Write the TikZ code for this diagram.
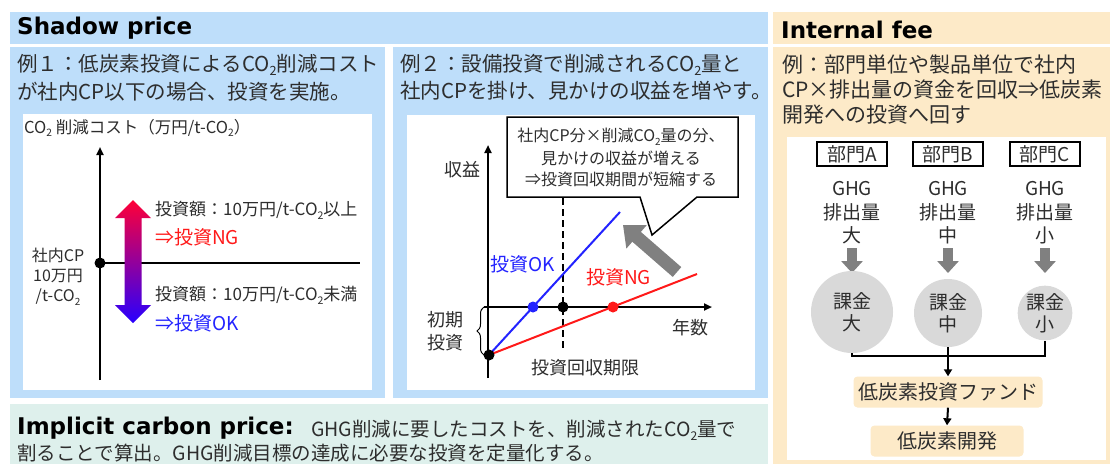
\documentclass[tikz,border=0pt]{standalone}
\usepackage{fontspec}
\setmainfont{Noto Sans CJK JP}
\newfontfamily\hdfont{DejaVu Sans}
\usetikzlibrary{arrows.meta,decorations.pathreplacing,calc}
\definecolor{sbblue}{RGB}{190,222,250}
\definecolor{ifbeige}{RGB}{253,234,200}
\definecolor{icgreen}{RGB}{222,240,236}
\definecolor{tcol}{RGB}{45,45,45}
\definecolor{ngred}{RGB}{255,25,25}
\definecolor{okblue}{RGB}{35,35,255}
\definecolor{circgray}{RGB}{217,217,217}
\definecolor{arrgray}{RGB}{128,128,128}
\definecolor{gradtop}{RGB}{255,0,55}
\definecolor{gradbot}{RGB}{40,0,255}
\newcommand\fz[1]{\fontsize{#1}{#1}\selectfont}
\newcommand\subtwo{\raisebox{-0.22em}{\scalebox{0.62}{2}}}
\tikzset{
  tx/.style={inner sep=0pt, text=tcol},
  hd/.style={inner sep=0pt, anchor=west, text=black, font=\hdfont\bfseries\fz{23}},
  ptxt/.style={tx, anchor=west, font=\fz{20.5}},
  ctxt/.style={tx, font=\fz{17}},
  axis/.style={line width=2pt, -{Triangle[length=8pt,width=7pt]}},
  dot/.style={circle, inner sep=0pt, minimum size=11pt},
  deptbox/.style={draw=black, line width=2pt, inner sep=0pt, minimum width=70pt, minimum height=24pt, text=tcol, font=\fz{19}},
  fee/.style={circle, fill=circgray, inner sep=0pt, text=tcol, font=\fz{19}, align=center},
  grayarr/.style={arrgray, line width=10pt, -{Triangle[length=12pt,width=21pt]}},
  fund/.style={fill=ifbeige, rounded corners=4pt, inner sep=0pt, text=tcol, font=\fz{20}},
  flow/.style={line width=2pt, -{Triangle[length=7pt,width=8pt]}},
}
\begin{document}
\begin{tikzpicture}[x=1pt,y=-1pt]
\useasboundingbox (0,0) rectangle (1110,464);
\fill[white] (0,0) rectangle (1110,464);
% ---------- backgrounds
\fill[sbblue] (10,12) rectangle (768,44);
\fill[sbblue] (10,47) rectangle (385,398);
\fill[sbblue] (393,47) rectangle (768,398);
\fill[white] (23,114) rectangle (372,390);
\fill[white] (407,115) rectangle (755,390);
\fill[icgreen] (10,404) rectangle (768,464);
\fill[ifbeige] (773,12) rectangle (1110,44);
\fill[ifbeige] (773,47) rectangle (1110,464);
\fill[white] (787,137) rectangle (1106,460);
% ---------- headings
\node[hd] (hsp) at (17,28) {Shadow price};
\node[hd] (hif) at (781,30) {Internal fee};
\node[ptxt] (p1a) at (17,65) {例１：低炭素投資によるCO\subtwo 削減コスト};
\node[ptxt] (p1b) at (17,92) {が社内CP以下の場合、投資を実施。};
\node[ptxt] (p2a) at (400,65) {例２：設備投資で削減されるCO\subtwo 量と};
\node[ptxt] (p2b) at (400,91) {社内CPを掛け、見かけの収益を増やす。};
\node[ptxt, font=\fz{21}] (p3a) at (782,65) {例：部門単位や製品単位で社内};
\node[ptxt, font=\fz{21}] (p3b) at (782,90) {CP×排出量の資金を回収⇒低炭素};
\node[ptxt, font=\fz{21}] (p3c) at (782,115) {開発への投資へ回す};
% ---------- implicit carbon price
\node[hd] (hic) at (17,428) {Implicit carbon price:};
\node[tx, anchor=west, font=\fz{19.5}] (ic1) at (311,430) {GHG削減に要したコストを、削減されたCO\subtwo 量で};
\node[tx, anchor=west, font=\fz{19.5}] (ic2) at (17,453) {割ることで算出。GHG削減目標の達成に必要な投資を定量化する。};
% ---------- chart 1
\node[tx, anchor=west, font=\fz{16.5}] (c1t) at (24,128) {CO\subtwo\ 削減コスト（万円/t-CO\subtwo）};
\coordinate (c1bot) at (100,380);
\coordinate (c1top) at (100,147);
\coordinate (c1right) at (360,263);
\draw[axis] (c1bot) -- (c1top);
\node[dot, fill=black] (c1o) at (100,263) {};
\draw[line width=2pt] (c1o.center) -- (c1right);
\node[ctxt, font=\fz{16}] (cp1) at (58,255) {社内CP};
\node[ctxt, font=\fz{16}] (cp2) at (58,276) {10万円};
\node[ctxt, font=\fz{16}] (cp3) at (58,297) {/t-CO\subtwo};
\shade[top color=gradtop, bottom color=gradbot]
  (133,200) -- (151,218) -- (141.5,218) -- (141.5,305) -- (151,305) -- (133,323)
  -- (115,305) -- (124.5,305) -- (124.5,218) -- (115,218) -- cycle;
\node[ctxt, anchor=west] (ng1) at (155,210) {投資額：10万円/t-CO\subtwo 以上};
\node[tx, anchor=west, text=ngred, font=\fz{19}] (ng2) at (155,237) {⇒投資NG};
\node[ctxt, anchor=west] (ok1) at (155,295) {投資額：10万円/t-CO\subtwo 未満};
\node[tx, anchor=west, text=okblue, font=\fz{19}] (ok2) at (155,323) {⇒投資OK};
% ---------- chart 2
\coordinate (c2bot) at (488,378);
\coordinate (c2top) at (488,145);
\coordinate (c2left) at (484,307);
\coordinate (c2right) at (712,307);
\draw[axis] (c2bot) -- (c2top);
\draw[axis] (c2left) -- (c2right);
\node[ctxt, font=\fz{18}] (y2) at (462,170) {収益};
\node[ctxt, font=\fz{18}] (x2) at (690,328) {年数};
\coordinate (okend) at (620,212);
\coordinate (ngend) at (697,274);
\coordinate (dtop) at (563,198);
\coordinate (dbot) at (563,348);
\draw[line width=2pt, dash pattern=on 7pt off 4pt] (dtop) -- (dbot);
\node[dot] (o2) at (489,355) {};
\draw[line width=2pt, okblue] (o2.center) -- (okend);
\draw[line width=2pt, ngred] (o2.center) -- (ngend);
\node[dot, fill=black] at (o2) {};
\node[dot, fill=okblue] (okp) at (533,307) {};
\node[dot, fill=black] (lim) at (563,307) {};
\node[dot, fill=ngred] (ngp) at (613,307) {};
\coordinate (br1) at (484,355);
\coordinate (br2) at (484,307);
\draw[line width=1pt, decorate, decoration={brace, amplitude=7pt}] (br1) -- (br2);
\node[ctxt, font=\fz{18}] (ini1) at (445,320) {初期};
\node[ctxt, font=\fz{18}] (ini2) at (445,343) {投資};
\node[tx, anchor=west, text=okblue, font=\fz{19}] (okl) at (490,264) {投資OK};
\node[tx, anchor=west, text=ngred, font=\fz{19}] (ngl) at (586,277) {投資NG};
\node[ctxt, font=\fz{18}] (limt) at (585,368) {投資回収期限};
\coordinate (gat) at (677,272);
\coordinate (gah) at (623,225);
\draw[arrgray, line width=13pt, -{Triangle[length=18pt,width=30pt]}] (gat) -- (gah);
\draw[line width=1.5pt, fill=white] (507,117) -- (738,117) -- (738,197) -- (697,197)
  -- (652,235) -- (640,197) -- (507,197) -- cycle;
\node[ctxt, font=\fz{16}] (cl1) at (621,137) {社内CP分×削減CO\subtwo 量の分、};
\node[ctxt, font=\fz{16}] (cl2) at (621,158) {見かけの収益が増える};
\node[ctxt, font=\fz{16}] (cl3) at (621,179) {⇒投資回収期間が短縮する};
% ---------- internal fee diagram
\node[deptbox] (dA) at (852,154) {部門A};
\node[deptbox] (dB) at (948,154) {部門B};
\node[deptbox] (dC) at (1045,154) {部門C};
\foreach \n/\x/\s in {A/852/大, B/948/中, C/1045/小}{
  \node[tx, font=\fz{19}] (g1\n) at (\x,189) {GHG};
  \node[tx, font=\fz{19}] (g2\n) at (\x,212) {排出量};
  \node[tx, font=\fz{19}] (g3\n) at (\x,235) {\s};
  \coordinate (as\n) at (\x,248);
  \coordinate (ae\n) at (\x,273);
  \draw[grayarr] (as\n) -- (ae\n);
}
\node[fee, minimum size=82pt] (fA) at (852,312) {課金\\[3pt]大};
\node[fee, minimum size=68pt] (fB) at (948,313) {課金\\[3pt]中};
\node[fee, minimum size=54pt] (fC) at (1045,313) {課金\\[3pt]小};
\coordinate (jn) at (948,356);
\node[fund, minimum width=189pt, minimum height=31pt] (fund) at (948,392) {低炭素投資ファンド};
\node[fund, minimum width=153pt, minimum height=31pt] (dev) at (947,441) {低炭素開発};
\draw[line width=2pt] (fA.south) |- (jn) -| (fC.south);
\draw[flow] (fB.south) -- (fund.north);
\draw[flow] (fund.south) -- (dev.north);
\end{tikzpicture}
\end{document}
